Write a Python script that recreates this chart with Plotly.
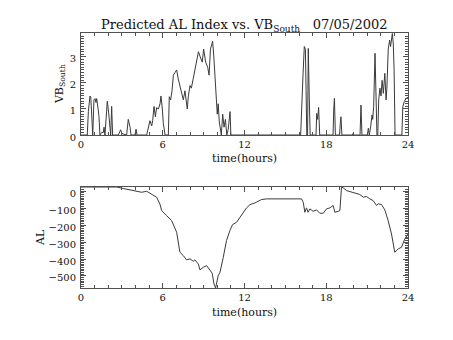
import plotly.graph_objects as go
from plotly.subplots import make_subplots

# Southward IMF component VB_South (mV/m) through the day, hours UT
vb_hours = [0, 0.46, 0.54, 0.66, 0.72, 0.78, 0.86, 0.95, 1.03, 1.10, 1.15, 1.27, 1.32, 1.39,
            1.52, 1.64, 1.69, 1.76, 1.83, 1.93, 2.03, 2.08, 2.18, 2.25, 2.32, 2.74, 2.81, 2.91,
            3.01, 3.35, 3.47, 3.60, 3.67, 3.96, 4.04, 4.11, 4.82, 4.94, 5.06, 5.19, 5.26, 5.36,
            5.46, 5.55, 5.68, 5.80, 5.87, 5.97, 6.04, 6.17, 6.41, 6.48, 6.58, 6.68, 6.78, 6.90,
            7.02, 7.14, 7.27, 7.39, 7.51, 7.63, 7.71, 7.80, 7.88, 8.00, 8.10, 8.20, 8.35, 8.50,
            8.62, 8.75, 8.90, 9.00, 9.15, 9.30, 9.40, 9.50, 9.66, 9.75, 9.90, 10.00, 10.07, 10.15,
            10.30, 10.40, 10.50, 10.60, 10.70, 10.80, 10.94, 11.00, 16.12, 16.20, 16.30, 16.39,
            16.47, 16.52, 16.57, 16.63, 16.68, 16.75, 16.82, 17.25, 17.30, 17.37, 17.44, 17.52,
            18.50, 18.55, 18.60, 18.67, 18.98, 19.03, 19.08, 19.15, 19.90, 19.96, 20.02, 20.48,
            20.55, 20.62, 21.02, 21.09, 21.16, 21.26, 21.36, 21.41, 21.48, 21.58, 21.65, 21.72,
            21.78, 21.85, 21.94, 22.02, 22.10, 22.19, 22.30, 22.39, 22.45, 22.55, 22.65, 22.72,
            22.85, 22.92, 22.98, 23.05, 23.55, 23.62, 23.72, 23.85, 24.00]
vb_south = [0, 0, 0.9, 1.5, 1.45, 0.95, 0, 1.35, 1.4, 1.25, 1.4, 0.95, 0.7, 0,
            0.1, 0.1, 0.3, 0, 0.75, 1.3, 0.85, 0.6, 0, 1.1, 0, 0, 0.12, 0.2,
            0.05, 0, 0.6, 0.3, 0, 0, 0.22, 0, 0, 0.3, 0.55, 0.35, 0.55, 1.1,
            0.7, 1.05, 1.0, 1.2, 1.5, 1.0, 0.45, 0, 0, 1.47, 1.35, 1.7, 2.3, 2.4,
            2.5, 2.15, 1.9, 1.6, 1.35, 1.7, 1.4, 1.0, 1.5, 1.9, 1.8, 2.1, 2.4, 3.0,
            3.2, 3.0, 2.8, 3.3, 2.8, 2.6, 2.3, 3.3, 3.6, 3.0, 1.5, 0.8, 1.2, 0.5,
            0, 0.8, 0.3, 0.6, 0, 0.2, 0.9, 0, 0, 1.47, 2.37, 3.4,
            3.3, 1.7, 0, 0, 3.33, 1.5, 0, 0, 0.83, 0.6, 1.06, 0,
            0, 1.0, 1.41, 0, 0, 0.45, 0.7, 0, 0, 0.05, 0, 0,
            1.15, 0, 0, 0.26, 0, 0.32, 0.77, 0.6, 1.1, 3.14, 1.5, 0,
            0, 1.35, 1.8, 1.5, 2.1, 1.6, 2.37, 1.35, 1.8, 3.3, 3.65, 3.4,
            3.9, 3.5, 2.5, 0, 0, 1.09, 1.28, 1.4, 1.45]

# Predicted AL index (nT)
al_hours = [0, 2.62, 3.11, 3.59, 4.08, 4.45, 4.82, 5.18, 5.55, 5.79, 5.92, 6.28, 6.65, 7.02,
            7.14, 7.26, 7.51, 7.75, 8.00, 8.24, 8.36, 8.61, 8.73, 8.97, 9.22, 9.46, 9.63, 9.76,
            9.88, 10.07, 10.20, 10.44, 10.68, 10.93, 11.12, 11.42, 11.66, 11.91, 12.15, 12.40,
            12.76, 13.25, 13.62, 16.19, 16.31, 16.43, 16.55, 16.67, 16.80, 17.04, 17.29, 17.53,
            17.78, 18.02, 18.26, 18.51, 18.63, 18.88, 19.00, 19.12, 19.24, 19.49, 19.98, 20.46,
            20.72, 20.95, 21.20, 21.44, 21.69, 21.81, 22.05, 22.30, 22.54, 22.79, 23.03, 23.28,
            23.52, 23.77, 24.00]
al_index = [25, 25, 16, 8, 4, -6, 0, -16, -35, -75, -114, -144, -173, -242,
            -301, -360, -380, -405, -399, -413, -405, -429, -464, -449, -439, -468, -484, -547,
            -571, -498, -478, -390, -291, -232, -197, -183, -153, -124, -98, -79,
            -69, -49, -45, -45, -65, -124, -98, -124, -104, -118, -110, -130,
            -130, -104, -98, -84, -124, -118, -114, 24, 20, 4, -6, -19,
            -35, -31, -45, -55, -84, -74, -78, -110, -173, -252, -360, -340,
            -331, -281, -252]

hour_ticks = [0, 6, 12, 18, 24]
vb_ticks = [0, 1, 2, 3]
al_ticks = [0, -100, -200, -300, -400, -500]

FONT = "DejaVu Serif"
LINE = "#3a3a3a"
FRAME = "#505050"

fig = make_subplots(rows=2, cols=1, vertical_spacing=0.0)

fig.add_trace(go.Scatter(x=vb_hours, y=vb_south, mode="lines",
                         line=dict(color=LINE, width=1), showlegend=False), row=1, col=1)
fig.add_trace(go.Scatter(x=al_hours, y=al_index, mode="lines",
                         line=dict(color=LINE, width=1), showlegend=False), row=2, col=1)

axis_common = dict(showgrid=False, zeroline=False, showline=True, linecolor=FRAME,
                   linewidth=1, mirror="allticks", ticks="inside", tickcolor=FRAME,
                   ticklen=5, tickwidth=1, tickfont=dict(family=FONT, size=10, color="#111"))

for r in (1, 2):
    fig.update_xaxes(range=[0, 24], tickvals=hour_ticks, ticklabelstandoff=0,
                     minor=dict(dtick=1, ticks="inside", ticklen=3, tickcolor=FRAME),
                     row=r, col=1, **axis_common)

fig.update_yaxes(range=[0, 3.92], tickvals=vb_ticks, ticklabelshift=2, ticklabelstandoff=2,
                 minor=dict(dtick=0.1, ticks="inside", ticklen=3, tickcolor=FRAME),
                 domain=[0.6, 1.0], row=1, col=1, **axis_common)
fig.update_yaxes(range=[-571, 25], tickvals=al_ticks, ticklabelshift=2, ticklabelstandoff=2,
                 minor=dict(dtick=10, ticks="inside", ticklen=3, tickcolor=FRAME),
                 domain=[0.0, 0.396], row=2, col=1, **axis_common)

title_font = dict(family=FONT, size=11, color="#111")
annotations = [
    dict(text="Predicted AL Index vs. VB<sub>South</sub>&nbsp;&nbsp;&nbsp;07/05/2002",
         x=0.5, y=1.031, xref="paper", yref="paper", showarrow=False,
         xanchor="center", yanchor="middle", font=dict(family=FONT, size=13, color="#111")),
    dict(text="time(hours)", x=0.5, y=0.506, xref="paper", yref="paper", showarrow=False,
         xanchor="center", yanchor="middle", font=title_font),
    dict(text="time(hours)", x=0.5, y=-0.098, xref="paper", yref="paper", showarrow=False,
         xanchor="center", yanchor="middle", font=title_font),
    dict(text="VB<sub>South</sub>", x=-0.064, y=0.8, xref="paper", yref="paper",
         showarrow=False, textangle=-90, xanchor="center", yanchor="middle", font=title_font),
    dict(text="AL", x=-0.124, y=0.198, xref="paper", yref="paper",
         showarrow=False, textangle=-90, xanchor="center", yanchor="middle", font=title_font),
]

fig.update_layout(width=453, height=340, margin=dict(l=81, r=45, t=33, b=52),
                  paper_bgcolor="white", plot_bgcolor="white", annotations=annotations)

fig.write_html("out.html")
